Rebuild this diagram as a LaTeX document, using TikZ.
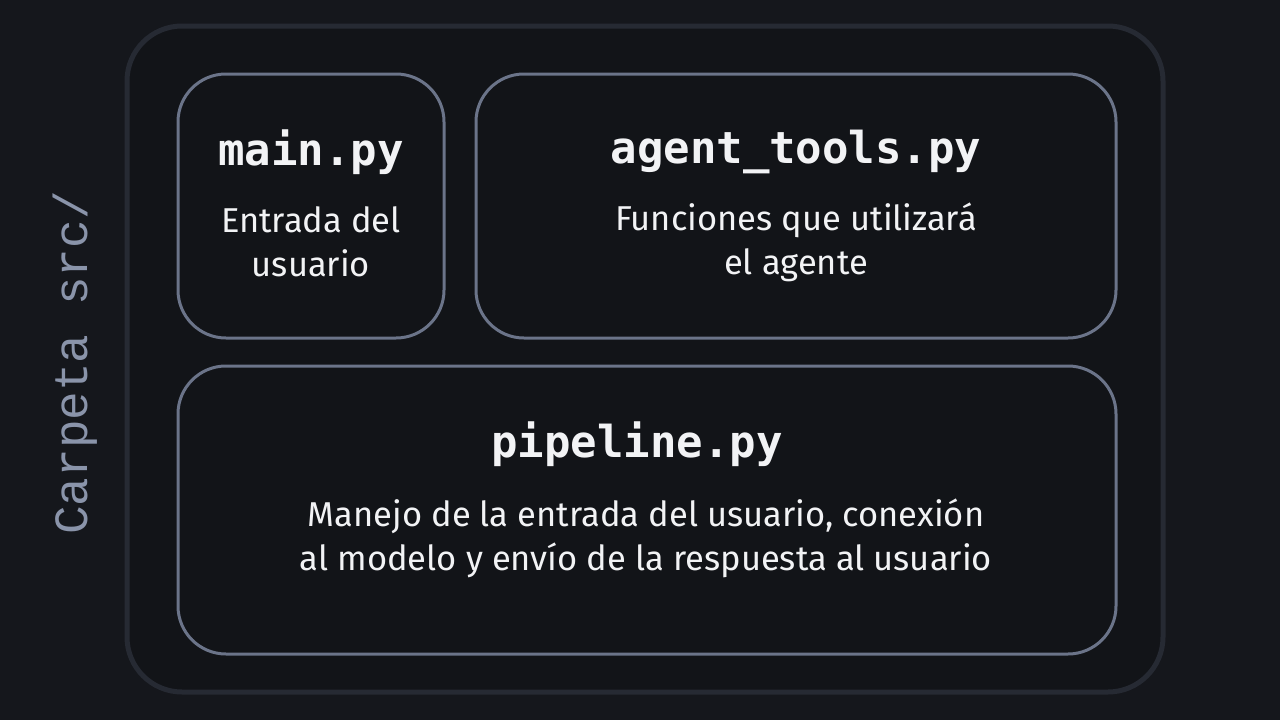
\documentclass[tikz,border=0pt]{standalone}
\usepackage{fontspec}
\setmainfont{Fira Sans}
\newfontfamily\codefont{DejaVu Sans Mono}
\newfontfamily\labelfont{Liberation Mono}
\definecolor{bgcol}{HTML}{15171C}
\definecolor{innercol}{HTML}{121418}
\definecolor{outerline}{HTML}{262A33}
\definecolor{boxline}{HTML}{6B7489}
\definecolor{txtcol}{HTML}{F2F3F5}
\definecolor{lblcol}{HTML}{8A94AA}
\tikzset{
  filebox/.style={draw=boxline, line width=3pt, rounded corners=48pt, fill=innercol},
  titletext/.style={text=txtcol, font=\codefont\bfseries\fontsize{44}{50}\selectfont, anchor=center, inner sep=0pt},
  desctext/.style={text=txtcol, font=\fontsize{34.5}{44}\selectfont, align=center, anchor=center, inner sep=0pt},
}
\begin{document}
\begin{tikzpicture}[x=1pt,y=-1pt]
\useasboundingbox (0,0) rectangle (1280,720);
\fill[bgcol] (0,0) rectangle (1280,720);
\draw[draw=outerline, line width=5pt, rounded corners=55pt, fill=innercol] (127,26) rectangle (1163,692);
\node[lblcol, font=\labelfont\fontsize{47.7}{50}\selectfont, rotate=90, inner sep=0pt] (lbl) at (75,363) {Carpeta src/};
\draw[filebox] (178,74) rectangle (444,338);
\coordinate (mainbox) at (311,206);
\draw[filebox] (476,74) rectangle (1116,338);
\coordinate (agentbox) at (796,206);
\draw[filebox] (178,366) rectangle (1116,654);
\coordinate (pipebox) at (647,510);
\node[titletext] (maint) at (311,152) {main.py};
\node[desctext] (maind) at (311,242) {Entrada del\\usuario};
\node[titletext] (agentt) at (796,152) {agent\_tools.py};
\node[desctext] (agentd) at (796,242) {Funciones que utilizará\\el agente};
\node[titletext] (pipet) at (637,444) {pipeline.py};
\node[desctext] (piped) at (646,538) {Manejo de la entrada del usuario, conexión\\al modelo y envío de la respuesta al usuario};
\end{tikzpicture}
\end{document}
